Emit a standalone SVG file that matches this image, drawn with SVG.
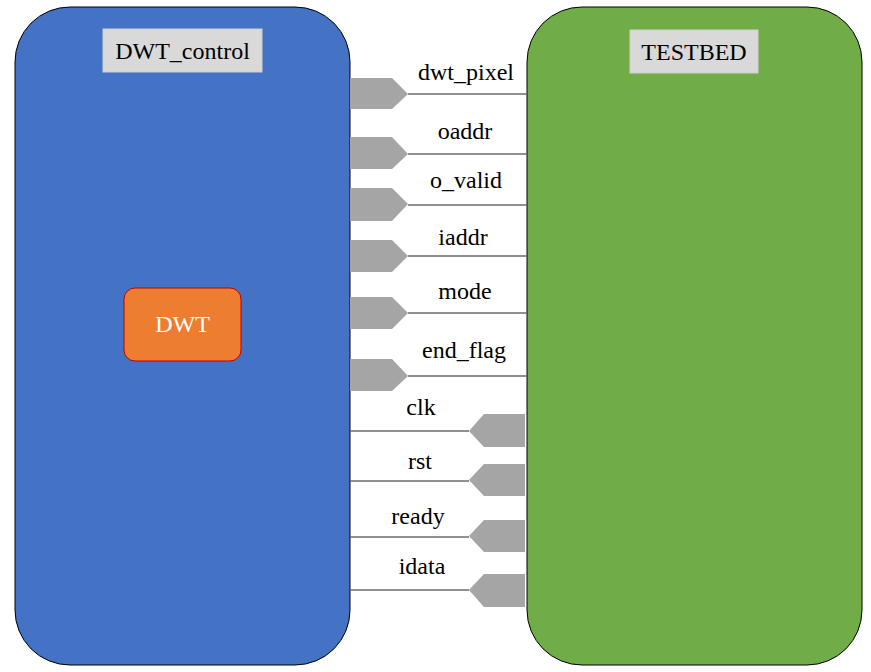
<svg xmlns="http://www.w3.org/2000/svg" width="871" height="672" viewBox="0 0 871 672" font-family="'Liberation Serif', 'Times New Roman', 'DejaVu Serif', serif">
<style>
text{font-family:'Liberation Serif','Times New Roman','DejaVu Serif',serif;font-size:24px;fill:#000;text-anchor:middle}
.box{stroke:#000;stroke-width:1}
.lbl{fill:#d9d9d9;stroke:#cfcfcf;stroke-width:1}
.pin{fill:#a5a5a5;stroke:none}
.wire{stroke:#6b6b6b;stroke-width:1.5;fill:none}
</style>
<rect width="871" height="672" fill="#fff"/>
<g id="DWT_control">
<rect class="box" x="15" y="7" width="335" height="658" rx="55" ry="55" fill="#4472c4"/>
<rect class="lbl" x="103" y="29" width="159" height="43"/>
<text x="182.5" y="59" font-family="'Liberation Serif', serif">DWT_control</text>
</g>
<g id="TESTBED">
<rect class="box" x="527" y="7" width="335" height="658" rx="55" ry="55" fill="#70ad47"/>
<rect class="lbl" x="630" y="30" width="128" height="43"/>
<text x="694" y="60" font-family="'Liberation Serif', serif">TESTBED</text>
</g>
<g id="DWT">
<rect x="124" y="288" width="117" height="73" rx="11" ry="11" fill="#ed7d31" stroke="#c00000" stroke-width="1"/>
<text x="182.5" y="332" style="fill:#fff">DWT</text>
</g>
<g id="connectors">
<g id="dwt_pixel"><polygon class="pin" points="350,78 392,78 408,94 392,109 350,109"/><line class="wire" x1="408" y1="94" x2="527" y2="94"/><text x="466" y="80">dwt_pixel</text></g>
<g id="oaddr"><polygon class="pin" points="350,137 392,137 408,154 392,169 350,169"/><line class="wire" x1="408" y1="154" x2="527" y2="154"/><text x="465" y="139">oaddr</text></g>
<g id="o_valid"><polygon class="pin" points="350,188 392,188 408,204 392,221 350,221"/><line class="wire" x1="408" y1="205" x2="527" y2="205"/><text x="466" y="188">o_valid</text></g>
<g id="iaddr"><polygon class="pin" points="350,240 392,240 408,256 392,272 350,272"/><line class="wire" x1="408" y1="256" x2="527" y2="256"/><text x="463" y="245">iaddr</text></g>
<g id="mode"><polygon class="pin" points="350,297 392,297 408,313 392,329 350,329"/><line class="wire" x1="408" y1="313" x2="527" y2="313"/><text x="465" y="299">mode</text></g>
<g id="end_flag"><polygon class="pin" points="350,359 392,359 408,376 392,391 350,391"/><line class="wire" x1="408" y1="376" x2="527" y2="376"/><text x="464" y="358">end_flag</text></g>
<g id="clk"><polygon class="pin" points="525,414 484,414 469,431 484,447 525,447"/><line class="wire" x1="350" y1="431" x2="469" y2="431"/><text x="421" y="415">clk</text></g>
<g id="rst"><polygon class="pin" points="525,464 484,464 469,480 484,496 525,496"/><line class="wire" x1="350" y1="481" x2="469" y2="481"/><text x="420" y="469">rst</text></g>
<g id="ready"><polygon class="pin" points="525,520 484,520 469,536 484,552 525,552"/><line class="wire" x1="350" y1="537" x2="469" y2="537"/><text x="418" y="524">ready</text></g>
<g id="idata"><polygon class="pin" points="525,574 484,574 469,590 484,607 525,607"/><line class="wire" x1="350" y1="590" x2="469" y2="590"/><text x="422" y="574">idata</text></g>
</g>
</svg>
